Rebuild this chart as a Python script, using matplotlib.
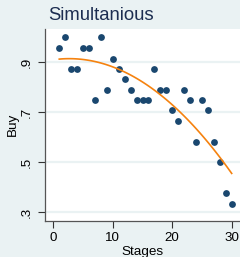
import numpy as np
import matplotlib.pyplot as plt

plt.rcParams['font.family'] = ['Liberation Sans', 'DejaVu Sans']

# data
stages = [1, 2, 3, 4, 5, 6, 7, 8, 9, 10, 11, 12, 13, 14, 15,
          16, 17, 18, 19, 20, 21, 22, 23, 24, 25, 26, 27, 28, 29, 30]
buy = [0.956, 1.0, 0.875, 0.875, 0.956, 0.956, 0.75, 1.0, 0.79, 0.914,
       0.875, 0.832, 0.79, 0.75, 0.75, 0.75, 0.875, 0.79, 0.79, 0.708,
       0.666, 0.79, 0.75, 0.582, 0.75, 0.708, 0.582, 0.5, 0.376, 0.334]
yticks = [0.3, 0.5, 0.7, 0.9]
ytick_labels = ['.3', '.5', '.7', '.9']
xticks = [0, 10, 20, 30]

navy = '#1a476f'
bg = '#eaf2f3'

fig = plt.figure(figsize=(2.4, 2.57), dpi=100, facecolor=bg)
ax = fig.add_axes([0.1875, 0.142, 0.8125, 0.745])
ax.set_facecolor('white')

# quadratic fit like stata's qfit
coef = np.polyfit(stages, buy, 2)
xs = np.linspace(min(stages), max(stages), 100)
ax.plot(xs, np.polyval(coef, xs), color='#f5820f', lw=1.2, zorder=3)

ax.scatter(stages, buy, s=24, color=navy, zorder=2, linewidths=0)

ax.set_xlim(-1.4, 31.4)
ax.set_ylim(0.267, 1.033)
ax.set_yticks(yticks)
ax.set_yticklabels(ytick_labels, rotation=90, va='center')
ax.set_xticks(xticks)
ax.tick_params(length=5, width=0.8, labelsize=9.6, color='#333333')
ax.tick_params(axis='x', pad=3.5)
ax.tick_params(axis='y', pad=4)
ax.grid(axis='y', color=bg, lw=1.6, zorder=0)
ax.set_axisbelow(True)

for side in ['top', 'right']:
    ax.spines[side].set_visible(False)
for side in ['left', 'bottom']:
    ax.spines[side].set_color('#555555')
    ax.spines[side].set_linewidth(0.9)

ax.set_xlabel('Stages', fontsize=9.7, labelpad=1)
ax.set_ylabel('Buy', fontsize=9.7, labelpad=1.5)
fig.text(48 / 240, 1 - 15 / 257, 'Simultanious', fontsize=13.3,
         color='#1c2d50', va='center', ha='left')

fig.savefig('out.png', dpi=100, facecolor=bg)
